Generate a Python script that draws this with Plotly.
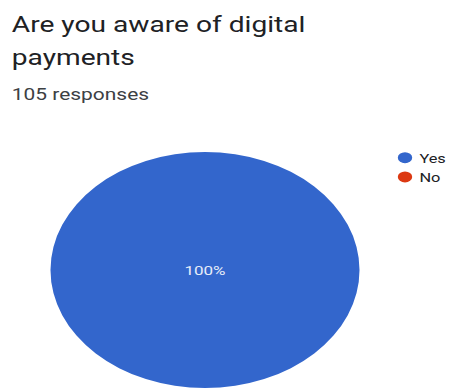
import plotly.graph_objects as go

# Survey results
labels = ["Yes", "No"]
values = [105, 0]
colors = ["#3366CC", "#DC3912"]
question_lines = ["Are you aware of digital", "payments"]
responses_text = "105 responses"

# The figure is laid out in a narrower box and then widened by STRETCH
W_OUT, H = 449, 388
STRETCH = 1.309
W = round(W_OUT / STRETCH)

PIE_CX = 205 / STRETCH   # horizontal pie centre in layout pixels
PIE_R = 118
PIE_TOP = 152
LEGEND_SYMBOL_X = 405 / STRETCH

fig = go.Figure()

fig.add_trace(go.Pie(
    labels=labels,
    values=values,
    marker=dict(colors=colors, line=dict(width=0)),
    sort=False,
    direction="clockwise",
    textinfo="percent",
    texttemplate="%{percent:.0%}",
    textposition="inside",
    insidetextfont=dict(family="Roboto", size=13, color="#e6ecf8"),
    showlegend=False,
    hoverinfo="skip",
    domain=dict(x=[(PIE_CX - PIE_R) / W, (PIE_CX + PIE_R) / W],
                y=[0, (H - PIE_TOP) / H]),
))

# Legend entries with round swatches
for lab, col in zip(labels, colors):
    fig.add_trace(go.Scatter(
        x=[None], y=[None], mode="markers", name=lab,
        marker=dict(symbol="circle", size=11, color=col),
    ))

def title_note(text, y_px, size, color):
    return dict(text=text, x=7 / W, y=1 - y_px / H, xref="paper", yref="paper",
                xanchor="left", yanchor="middle", showarrow=False,
                font=dict(family="Roboto", size=size, color=color))

fig.update_layout(
    width=W, height=H,
    margin=dict(l=0, r=0, t=0, b=0, autoexpand=False),
    paper_bgcolor="white", plot_bgcolor="white",
    xaxis=dict(visible=False), yaxis=dict(visible=False),
    font=dict(family="Roboto", color="#202124"),
    legend=dict(
        x=(LEGEND_SYMBOL_X - 20) / W, y=1 - 143 / H, xanchor="left", yanchor="top",
        font=dict(family="Roboto", size=12.5, color="#202124"),
        itemwidth=30, tracegroupgap=0, bgcolor="rgba(0,0,0,0)",
    ),
    annotations=[
        title_note(question_lines[0], 25, 21.5, "#202124"),
        title_note(question_lines[1], 57, 21.5, "#202124"),
        title_note(responses_text, 94, 16, "#3c4043"),
    ],
)

# Widen the whole chart horizontally and tighten legend label spacing
post = """
var gd = document.getElementById('{plot_id}');
document.body.style.margin = '0';
document.body.style.overflow = 'hidden';
gd.style.transformOrigin = '0 0';
gd.style.transform = 'scale(%s,1)';
document.querySelectorAll('.legendtext').forEach(function(t){
    t.setAttribute('x', parseFloat(t.getAttribute('x')) - 9);
});
""" % STRETCH

fig.write_html("out.html", post_script=post,
               config={"displayModeBar": False},
               default_width="%dpx" % W, default_height="%dpx" % H)
